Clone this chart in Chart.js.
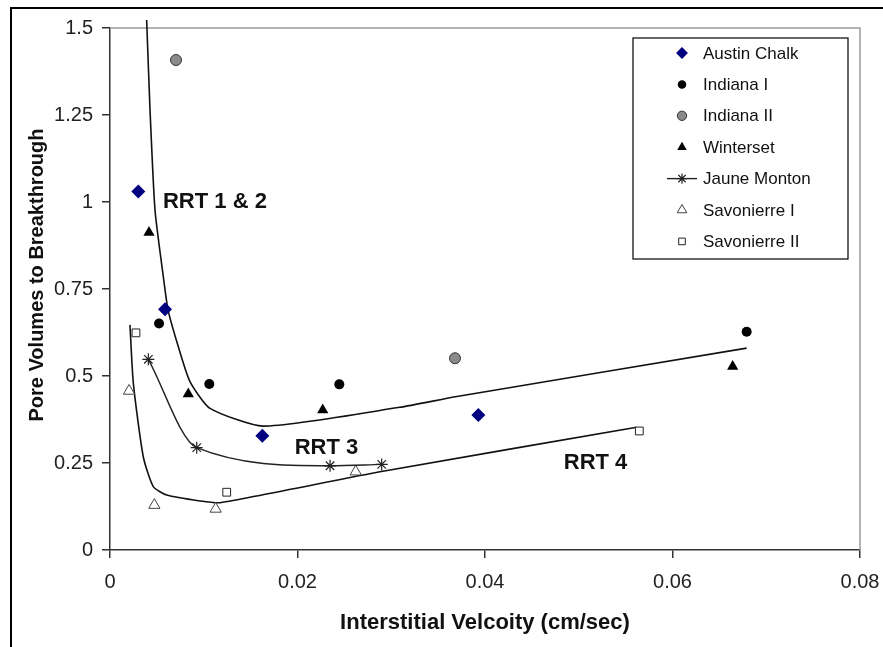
<!DOCTYPE html>
<html>
<head>
<meta charset="utf-8">
<script src="https://cdn.jsdelivr.net/npm/chart.js@4.4.1/dist/chart.umd.min.js"></script>
<style>
    html, body { margin: 0; padding: 0; background: #fff; }
    #wrap { width: 883px; height: 647px; }
</style>
</head>
<body>
<div id="wrap"><canvas id="chart" width="883" height="647"></canvas></div>
<script>
// tick labels
const xTickLabels = ['0', '0.02', '0.04', '0.06', '0.08']
const yTickLabels = ['0', '0.25', '0.5', '0.75', '1', '1.25', '1.5']

// measured points, [velocity, pore volumes]
const austinChalk = [[0.00302, 1.030], [0.00587, 0.692], [0.01625, 0.328], [0.03929, 0.388]]
const indianaI = [[0.00523, 0.651], [0.01059, 0.477], [0.02446, 0.476], [0.06791, 0.627]]
const indianaII = [[0.00704, 1.408], [0.0368, 0.551]]
const winterset = [[0.00416, 0.912], [0.00835, 0.448], [0.02269, 0.402], [0.06642, 0.527]]
const jauneMonton = [[0.00409, 0.548], [0.00925, 0.294], [0.02347, 0.242], [0.02898, 0.246]]
const savonierreI = [[0.00203, 0.457], [0.00473, 0.129], [0.01127, 0.118], [0.02621, 0.225]]
const savonierreII = [[0.00277, 0.624], [0.01245, 0.166], [0.05646, 0.342]]

// hand drawn trend curves
const rrt12Curve = [[0.00391, 1.523], [0.00427, 1.264], [0.0048, 0.977], [0.00569, 0.785], [0.00619, 0.690],
    [0.00729, 0.584], [0.00853, 0.484], [0.01067, 0.407], [0.01635, 0.356], [0.0309, 0.410],
    [0.037, 0.441], [0.06791, 0.580]]
const rrt4Curve = [[0.00213, 0.647], [0.00249, 0.479], [0.00355, 0.268], [0.00462, 0.182], [0.00605, 0.158],
    [0.0096, 0.141], [0.01173, 0.136], [0.0288, 0.225], [0.05618, 0.3525]]

const zoneLabels = ['RRT 1 & 2', 'RRT 3', 'RRT 4']

const toXY = arr => arr.map(p => ({x: p[0], y: p[1]}))

const FONT = '"Liberation Sans", Arial, sans-serif'

const trend = (data, extra) => ({
    isTrend: true,
    data: toXY(data),
    showLine: true,
    borderColor: '#111',
    borderWidth: 1.6,
    pointRadius: 0,
    tension: 0.2,
    ...extra
})

const datasets = [
    {label: 'Austin Chalk', data: toXY(austinChalk), pointStyle: 'rectRot', pointRadius: 7,
        backgroundColor: '#000080', borderColor: '#000080', borderWidth: 0},
    {label: 'Indiana I', data: toXY(indianaI), pointStyle: 'circle', pointRadius: 5,
        backgroundColor: '#000', borderColor: '#000', borderWidth: 0},
    {label: 'Indiana II', data: toXY(indianaII), pointStyle: 'circle', pointRadius: 5.5,
        backgroundColor: '#8a8a8a', borderColor: '#333', borderWidth: 1},
    {label: 'Winterset', data: toXY(winterset), pointStyle: 'triangle', pointRadius: 6.5,
        backgroundColor: '#000', borderColor: '#000', borderWidth: 0},
    {label: 'Jaune Monton', data: toXY(jauneMonton), pointStyle: 'star', pointRadius: 6,
        backgroundColor: '#222', borderColor: '#222', pointBorderWidth: 1.2,
        showLine: true, borderWidth: 1.4, cubicInterpolationMode: 'monotone', hasLine: true},
    {label: 'Savonierre I', data: toXY(savonierreI), pointStyle: 'triangle', pointRadius: 6.5,
        backgroundColor: '#fff', borderColor: '#444', borderWidth: 1},
    {label: 'Savonierre II', data: toXY(savonierreII), pointStyle: 'rect', pointRadius: 5.5,
        backgroundColor: '#fff', borderColor: '#222', borderWidth: 1},
    trend(rrt12Curve, {label: 'RRT 1 & 2 trend', clip: {left: 0, top: 10, right: 0, bottom: 0}}),
    trend(rrt4Curve, {label: 'RRT 4 trend'})
]

const decorations = {
    id: 'decorations',
    beforeDatasetsDraw(chart) {
        const {ctx, chartArea: a} = chart
        ctx.save()
        // outer frame
        ctx.strokeStyle = '#000'
        ctx.lineWidth = 2
        ctx.beginPath()
        ctx.moveTo(11, 647)
        ctx.lineTo(11, 8)
        ctx.lineTo(883, 8)
        ctx.stroke()
        // light plot border on top and right
        ctx.strokeStyle = '#9a9a9a'
        ctx.lineWidth = 1.5
        ctx.beginPath()
        ctx.moveTo(a.left, a.top)
        ctx.lineTo(a.right, a.top)
        ctx.lineTo(a.right, a.bottom)
        ctx.stroke()
        // y axis title
        ctx.translate(37, 275)
        ctx.rotate(-Math.PI / 2)
        ctx.fillStyle = '#111'
        ctx.font = 'bold 20px ' + FONT
        ctx.textAlign = 'center'
        ctx.textBaseline = 'middle'
        ctx.fillText('Pore Volumes to Breakthrough', 0, 0)
        ctx.restore()
    },
    afterDraw(chart) {
        const {ctx, scales: {x, y}} = chart
        ctx.save()
        // zone labels
        ctx.fillStyle = '#111'
        ctx.font = 'bold 22px ' + FONT
        ctx.textAlign = 'left'
        ctx.textBaseline = 'middle'
        const spots = [[0.00565, 1.0], [0.0197, 0.293], [0.0484, 0.25]]
        zoneLabels.forEach((t, i) => {
            ctx.fillText(t, x.getPixelForValue(spots[i][0]), y.getPixelForValue(spots[i][1]))
        })

        // legend box
        const bx = 633, by = 38, bw = 215, bh = 221
        ctx.fillStyle = '#fff'
        ctx.fillRect(bx, by, bw, bh)
        ctx.strokeStyle = '#000'
        ctx.lineWidth = 1.2
        ctx.strokeRect(bx, by, bw, bh)

        const items = chart.data.datasets.filter(d => !d.isTrend)
        ctx.font = '17px ' + FONT
        items.forEach((d, i) => {
            const ry = 53 + i * 31.4
            const mx = 682
            if (d.hasLine) {
                ctx.strokeStyle = d.borderColor
                ctx.lineWidth = 1.4
                ctx.beginPath()
                ctx.moveTo(667, ry)
                ctx.lineTo(697, ry)
                ctx.stroke()
            }
            ctx.fillStyle = d.backgroundColor
            ctx.strokeStyle = d.borderColor
            ctx.lineWidth = d.pointBorderWidth || d.borderWidth
            Chart.helpers.drawPoint(ctx, {
                pointStyle: d.pointStyle,
                radius: d.pointRadius * 0.85,
                rotation: 0,
                borderWidth: d.pointBorderWidth || d.borderWidth
            }, mx, ry)
            ctx.fillStyle = '#111'
            ctx.textAlign = 'left'
            ctx.textBaseline = 'middle'
            ctx.fillText(d.label, 703, ry + 1)
        })
        ctx.restore()
    }
}

new Chart(document.getElementById('chart'), {
    type: 'scatter',
    data: {datasets},
    options: {
        responsive: false,
        animation: false,
        layout: {padding: {left: 0, top: 28, right: 23, bottom: 0}},
        plugins: {
            legend: {display: false},
            tooltip: {enabled: false}
        },
        scales: {
            x: {
                type: 'linear',
                min: 0,
                max: 0.08,
                ticks: {
                    stepSize: 0.02,
                    padding: 12,
                    color: '#222',
                    font: {family: FONT, size: 20},
                    callback: (v, i) => xTickLabels[i]
                },
                grid: {drawOnChartArea: false, tickLength: 8, color: '#333', lineWidth: 1.5},
                border: {color: '#333', width: 1.5},
                title: {
                    display: true,
                    text: 'Interstitial Velcoity (cm/sec)',
                    color: '#111',
                    font: {family: FONT, size: 22, weight: 'bold'},
                    padding: {top: 0, bottom: 11}
                },
                afterFit: s => {
                    s.height = 97
                    s.paddingLeft = 0
                    s.paddingRight = 0
                }
            },
            y: {
                type: 'linear',
                min: 0,
                max: 1.5,
                ticks: {
                    stepSize: 0.25,
                    padding: 9,
                    color: '#222',
                    font: {family: FONT, size: 20},
                    callback: (v, i) => yTickLabels[i]
                },
                grid: {drawOnChartArea: false, tickLength: 8, color: '#333', lineWidth: 1.5},
                border: {color: '#333', width: 1.5},
                afterFit: s => {
                    s.width = 110
                    s.paddingTop = 0
                    s.paddingBottom = 0
                }
            }
        }
    },
    plugins: [decorations]
})
</script>
</body>
</html>
